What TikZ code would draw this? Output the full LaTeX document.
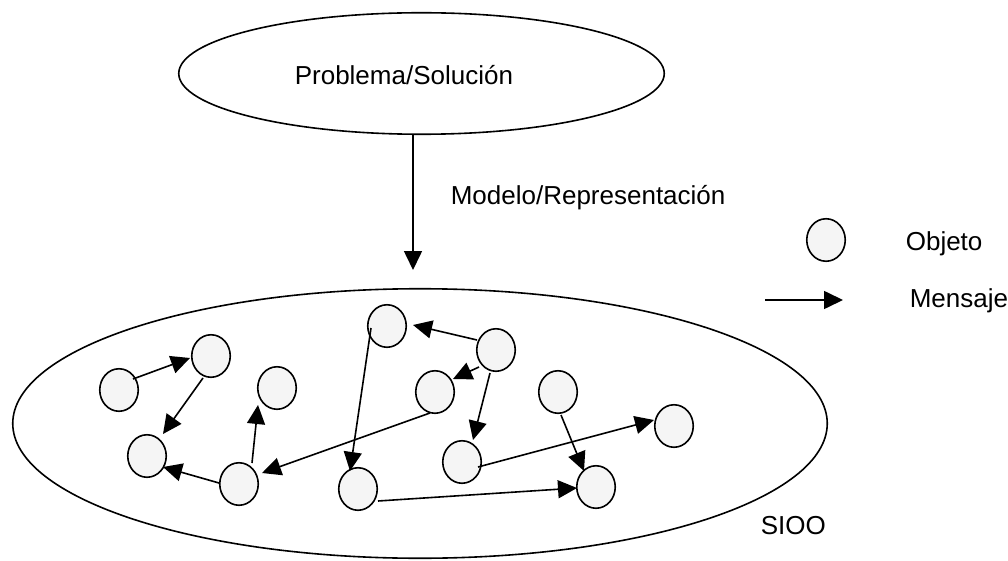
\documentclass[tikz,border=0pt]{standalone}
\usepackage{fontspec}
\setmainfont{Liberation Sans}
\usetikzlibrary{shapes.geometric,arrows.meta}
\begin{document}
\begin{tikzpicture}[x=1pt,y=-1pt,
  line width=1.6pt,
  obj/.style={ellipse,draw,fill=black!4,minimum width=38.5pt,minimum height=42.5pt,inner sep=0pt},
  region/.style={ellipse,draw,inner sep=0pt},
  msg/.style={-{Triangle[length=19pt,width=18pt]}},
  lbl/.style={anchor=base west,inner sep=0pt,font=\fontsize{26}{30}\selectfont}]
\useasboundingbox (0,0) rectangle (1008,561);

% problem domain and the system of objects
\node[region,minimum width=485.5pt,minimum height=121.5pt] (P) at (421.5,73.5) {};
\node[lbl] (Ptext) at (294,85) {Problema/Solución};
\node[region,minimum width=814.5pt,minimum height=269.5pt] (S) at (420,423.5) {};
\node[lbl] (Stext) at (760,534) {SIOO};

% modelling step
\coordinate (modelTip) at (413,270);
\draw[msg] (modelTip |- P.south) -- (modelTip);
\node[lbl] (Mtext) at (450,205) {Modelo/Representación};

% objects
\node[obj] (A) at (119,390) {};
\node[obj] (B) at (211,356) {};
\node[obj] (C) at (147,456) {};
\node[obj] (D) at (277,388) {};
\node[obj] (E) at (239,484) {};
\node[obj] (F) at (387,326) {};
\node[obj] (G) at (435,392) {};
\node[obj] (H) at (358,489) {};
\node[obj] (I) at (462,462) {};
\node[obj] (J) at (496,350) {};
\node[obj] (K) at (558,392) {};
\node[obj] (L) at (674,426) {};
\node[obj] (M) at (596,487) {};

% messages
\draw[msg] ([shift={(14,-11)}]A.center) -- ([shift={(-21,2)}]B.center);
\draw[msg] ([shift={(-8,22)}]B.center) -- ([shift={(16,-22)}]C.center);
\draw[msg] ([shift={(-20,-1)}]E.center) -- ([shift={(16,11)}]C.center);
\draw[msg] ([shift={(13,-21)}]E.center) -- ([shift={(-19,17)}]D.center);
\draw[msg] ([shift={(-5,21)}]G.center) -- ([shift={(23,-11)}]E.center);
\draw[msg] ([shift={(-16,2)}]F.center) -- ([shift={(-8,-18)}]H.center);
\draw[msg] ([shift={(-19,-10)}]J.center) -- ([shift={(26,-1)}]F.center);
\draw[msg] ([shift={(-17,17)}]J.center) -- ([shift={(18,-13)}]G.center);
\draw[msg] ([shift={(-6,23)}]J.center) -- ([shift={(11,-22)}]I.center);
\draw[msg] ([shift={(16,5)}]I.center) -- ([shift={(-20,-6)}]L.center);
\draw[msg] ([shift={(3,23)}]K.center) -- ([shift={(-12,-16)}]M.center);
\draw[msg] ([shift={(20,12)}]H.center) -- ([shift={(-19,1)}]M.center);

% legend
\node[obj] (legObj) at (826,240) {};
\node[lbl] (legObjText) at (905,250) {Objeto};
\coordinate (legFrom) at (765,300);
\coordinate (legTo) at (843,300);
\draw[msg] (legFrom) -- (legTo);
\node[lbl] (legMsgText) at (909,307) {Mensaje};
\end{tikzpicture}
\end{document}
